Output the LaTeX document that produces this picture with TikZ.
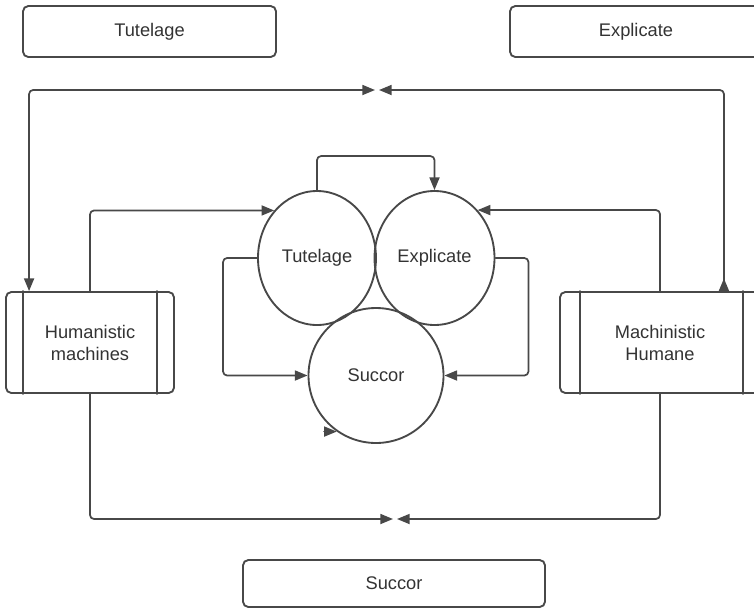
\documentclass[tikz,border=0pt]{standalone}
\usepackage{fontspec}
\setmainfont{Liberation Sans}
\usetikzlibrary{arrows.meta,shapes.geometric}

\definecolor{ink}{HTML}{484848}
\definecolor{txt}{HTML}{333333}

\tikzset{
  lbl/.style={text=txt,font=\fontsize{13.7}{16.5}\selectfont,align=center,inner sep=0pt},
  tbox/.style={lbl,draw=ink,line width=1.4pt,rounded corners=4pt,minimum height=38.25pt},
  pbox/.style={lbl,draw=ink,line width=1.4pt,rounded corners=4pt,minimum height=75.75pt},
  blob/.style={lbl,ellipse,draw=ink,line width=1.4pt},
  link/.style={draw=ink,line width=1.3pt,rounded corners=3pt},
  >={Triangle[length=9.5pt,width=7.5pt]}
}

\begin{document}
\begin{tikzpicture}[x=0.75pt,y=-0.75pt,line cap=round,line join=round]

\useasboundingbox (0,0) rectangle (754,608);

% title boxes
\node[tbox,minimum width=189.75pt] (tb) at (149.5,31.5) {Tutelage};
\node[tbox,minimum width=189pt] (eb) at (636,31.5) {Explicate};
\node[tbox,minimum width=226.5pt,minimum height=35.25pt] (sb) at (394,583.5) {Succor};

% the two process boxes
\node[pbox,minimum width=126pt] (hm) at (90,342.5) {Humanistic\\machines};
\node[pbox,minimum width=150pt] (mh) at (660,342.5) {Machinistic\\Humane};
\draw[ink,line width=1.4pt] ([xshift=13.5pt]hm.north west) -- ([xshift=13.5pt]hm.south west);
\draw[ink,line width=1.4pt] ([xshift=-13.5pt]hm.north east) -- ([xshift=-13.5pt]hm.south east);
\draw[ink,line width=1.4pt] ([xshift=15.75pt]mh.north west) -- ([xshift=15.75pt]mh.south west);
\draw[ink,line width=1.4pt] ([xshift=-13.5pt]mh.north east) -- ([xshift=-13.5pt]mh.south east);

% the three circles
\node[blob,minimum width=88.5pt,minimum height=100.5pt] (tc) at (317,258) {Tutelage};
\node[blob,minimum width=90pt,minimum height=100.5pt] (ec) at (434.5,258) {Explicate};
\node[blob,minimum width=101.25pt,minimum height=101.25pt] (sc) at (376,375.5) {Succor};

% meeting points of the outer loops
\coordinate (tl) at (375,90);
\coordinate (tr) at (379,90);
\coordinate (bl) at (393,519);
\coordinate (br) at (397,519);
\coordinate (sa) at (sc.235);

% outer loops
\draw[link,<->] (tl) -| ([xshift=18pt]hm.north west);
\draw[link,<-{Triangle[length=9.5pt,width=7.5pt,reversed]}] (tr) -| ([xshift=-27.75pt]mh.north east);
\draw[link,->] (hm.south) |- (bl);
\draw[link,->] (mh.south) |- (br);

% into the upper circles
\draw[link,->] (hm.north) |- (tc.132);
\draw[link,->] (mh.north) |- (ec.48);
\draw[link,->] (tc.north) -- ++(0,-34) -| (ec.north);

% down to succor
\draw[link,->] (tc.west) -- ++(-34,0) |- (sc.west);
\draw[link,->] (ec.east) -- ++(33,0) |- (sc.east);
\draw[link,->] ([xshift=-9.5pt]sa) -- (sa);

\end{tikzpicture}
\end{document}
